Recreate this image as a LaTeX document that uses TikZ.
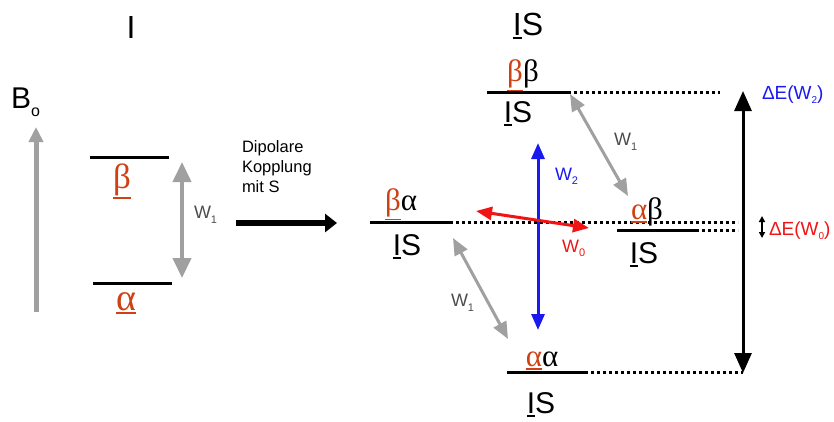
\documentclass[tikz,border=0pt]{standalone}
\usepackage{fontspec}
\setmainfont{Liberation Sans}
\newfontfamily\grk{Liberation Serif}
\usetikzlibrary{arrows.meta}
\definecolor{greek}{RGB}{205,65,20}
\definecolor{grayarr}{RGB}{160,160,160}
\definecolor{myred}{RGB}{240,20,20}
\definecolor{myblue}{RGB}{25,25,240}
\newcommand\fs[1]{\fontsize{#1}{#1}\selectfont}
\newcommand\myul[1]{\leavevmode\vtop{\hbox{#1}\kern2pt\hrule height 1.8pt}}
\newcommand\mysub[3]{\raisebox{#1}{\fs{#2}#3}}
\begin{document}
\begin{tikzpicture}[x=1pt,y=-1pt,
  lvl/.style={line width=3pt},
  dots/.style={line width=3pt, dash pattern=on 3pt off 3pt},
  lbl/.style={inner sep=0pt, outer sep=0pt},
  grarrow/.style={draw=grayarr, line width=3pt, {Triangle[length=17pt,width=14pt]}-{Triangle[length=17pt,width=14pt]}},
  bigI/.style={lbl, font=\fs{32}},
  isl/.style={lbl, font=\fs{30}},
  grl/.style={lbl, font=\grk\fs{31}},
  wl/.style={lbl, font=\fs{18}}]
\useasboundingbox (0,0) rectangle (834,421);

% ---------- left part: I ----------
\node[bigI, anchor=base] (tI) at (131,38) {I};
\node[lbl, anchor=base west, font=\fs{30}] (tB) at (11,108) {B\mysub{-8pt}{16}{o}};
\coordinate (B0) at (36,312);
\coordinate (B1) at (36,127);
\draw[draw=grayarr, line width=5pt, -{Triangle[length=15pt,width=14pt]}] (B0) -- (B1);

\coordinate (lb1) at (90,157); \coordinate (lb2) at (169,157);
\coordinate (la1) at (93,283); \coordinate (la2) at (172,283);
\draw[lvl] (lb1) -- (lb2);
\draw[lvl] (la1) -- (la2);
\node[lbl, anchor=base, font=\grk\fs{35}, text=greek] (lbeta) at (122,188) {\myul{β}};
\node[lbl, anchor=base, font=\grk\fs{38}, text=greek] (lalpha) at (126,310) {\myul{α}};

\coordinate (w1t) at (182,162);
\coordinate (w1b) at (182,278);
\draw[draw=grayarr, line width=4pt, {Triangle[length=20pt,width=18pt]}-{Triangle[length=20pt,width=18pt]}] (w1t) -- (w1b);
\node[wl, anchor=base west, text=black!70] (lw1) at (194,218) {W\mysub{-5pt}{11}{1}};

\node[lbl, anchor=north west, align=left, font={\fontsize{16.5}{20}\selectfont}] (dip) at (242,141) {Dipolare\\Kopplung\\mit S};
\coordinate (k0) at (236,223);
\coordinate (k1) at (337,223);
\draw[line width=6pt, -{Triangle[length=12pt,width=18pt]}] (k0) -- (k1);

% ---------- right part: IS ----------
\node[bigI, anchor=base] (tIS) at (528,35) {\myul{I}S};

% bb level
\coordinate (bb1) at (487,92); \coordinate (bb2) at (568,92); \coordinate (bb3) at (720,92);
\draw[lvl] (bb1) -- (bb2);
\draw[dots] (bb2) -- (bb3);
\node[grl, anchor=base] (lbb) at (523,81) {{\color{greek}\myul{β}}β};
\node[isl, anchor=base] (isbb) at (518,122) {\myul{I}S};

% ba level
\coordinate (ba1) at (370,222); \coordinate (ba2) at (450,222); \coordinate (ba3) at (738,222);
\draw[lvl] (ba1) -- (ba2);
\draw[dots] (ba2) -- (ba3);
\node[grl, anchor=base] (lba) at (401,210) {{\color{greek}\myul{β}}α};
\node[isl, anchor=base] (isba) at (407,255) {\myul{I}S};

% ab level
\coordinate (ab1) at (617,230); \coordinate (ab2) at (696,230); \coordinate (ab3) at (738,230);
\draw[lvl] (ab1) -- (ab2);
\draw[dots] (ab2) -- (ab3);
\node[grl, anchor=base] (lab) at (647,219) {{\color{greek}\myul{α}}β};
\node[isl, anchor=base] (isab) at (644,263) {\myul{I}S};

% aa level
\coordinate (aa1) at (507,372); \coordinate (aa2) at (585,372); \coordinate (aa3) at (743,372);
\draw[lvl] (aa1) -- (aa2);
\draw[dots] (aa2) -- (aa3);
\node[grl, anchor=base] (laa) at (542,366) {{\color{greek}\myul{α}}α};
\node[isl, anchor=base] (isaa) at (541,413) {\myul{I}S};

% W2 blue
\coordinate (w2t) at (538,143);
\coordinate (w2b) at (538,330);
\draw[draw=myblue, line width=3pt, {Triangle[length=16pt,width=13pt]}-{Triangle[length=16pt,width=13pt]}] (w2t) -- (w2b);
\node[wl, anchor=base west, text=myblue] (lw2) at (555,180) {W\mysub{-4pt}{11}{2}};

% W0 red
\coordinate (w0l) at (476,211);
\coordinate (w0r) at (589,228);
\draw[draw=myred, line width=3pt, {Triangle[length=16pt,width=13pt]}-{Triangle[length=16pt,width=13pt]}] (w0l) -- (w0r);
\node[wl, anchor=base west, text=myred] (lw0) at (562,252) {W\mysub{-4pt}{11}{0}};

% W1 gray (upper right and lower left)
\coordinate (g1a) at (570,94);
\coordinate (g1b) at (628,196);
\draw[grarrow] (g1a) -- (g1b);
\node[wl, anchor=base west, text=black!70] (lw1a) at (614,145) {W\mysub{-5pt}{11}{1}};
\coordinate (g2a) at (453,238);
\coordinate (g2b) at (508,339);
\draw[grarrow] (g2a) -- (g2b);
\node[wl, anchor=base west, text=black!70] (lw1b) at (451,306) {W\mysub{-5pt}{11}{1}};

% Delta E arrows
\coordinate (de1) at (743,91);
\coordinate (de2) at (743,373);
\draw[line width=3pt, {Triangle[length=20pt,width=17pt]}-{Triangle[length=20pt,width=17pt]}] (de1) -- (de2);
\node[lbl, anchor=base west, font=\fs{19}, text=myblue] (ldew2) at (762,99) {ΔE(W\mysub{-4pt}{10}{2})};
\coordinate (ds1) at (762,216);
\coordinate (ds2) at (762,238);
\draw[line width=1.6pt, {Triangle[length=6pt,width=6pt]}-{Triangle[length=6pt,width=6pt]}] (ds1) -- (ds2);
\node[lbl, anchor=base west, font=\fs{19}, text=myred] (ldew0) at (769,235) {ΔE(W\mysub{-4pt}{10}{0})};
\end{tikzpicture}
\end{document}
